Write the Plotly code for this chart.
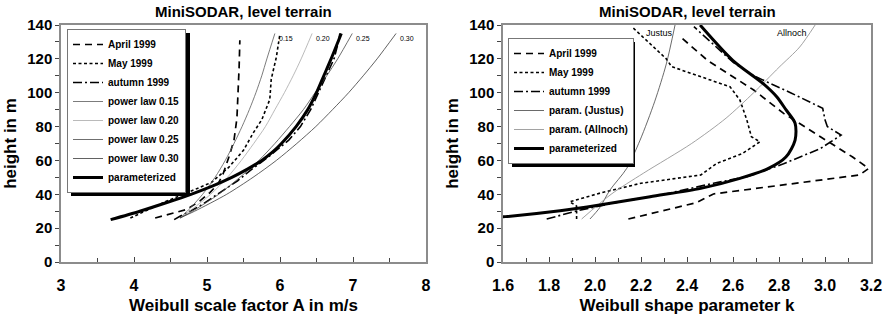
import plotly.graph_objects as go

W, H = 888, 324

# ---------------- Left panel: Weibull scale factor A ----------------
h_apr_A = [26, 29, 31, 36, 41, 46, 52, 62, 72, 85, 100, 115, 131]
A_apr = [4.29, 4.56, 4.72, 4.9, 5.04, 5.15, 5.22, 5.3, 5.37, 5.41, 5.43, 5.44, 5.45]

h_may_A = [26, 30, 36, 40, 44, 47, 56, 66, 76, 84, 96, 108, 121, 135]
A_may = [3.95, 4.15, 4.45, 4.68, 4.9, 5.06, 5.3, 5.5, 5.63, 5.75, 5.86, 5.88, 5.95, 6.0]

h_aut_A = [25, 27, 33, 40, 48, 55, 62, 72, 80, 90, 100, 110, 120, 130, 135]
A_aut = [4.55, 4.63, 4.9, 5.15, 5.42, 5.62, 5.84, 6.12, 6.28, 6.42, 6.53, 6.64, 6.74, 6.8, 6.82]

h_pl = [26, 30, 40, 50, 60, 70, 80, 90, 100, 110, 120, 135]
A_pl015 = [4.63, 4.73, 4.94, 5.11, 5.25, 5.37, 5.48, 5.58, 5.67, 5.75, 5.82, 5.93]
A_pl020 = [4.63, 4.76, 5.05, 5.28, 5.47, 5.64, 5.80, 5.93, 6.06, 6.18, 6.29, 6.44]
A_pl025 = [4.63, 4.80, 5.16, 5.45, 5.71, 5.93, 6.13, 6.32, 6.48, 6.64, 6.79, 6.99]
A_pl030 = [4.63, 4.83, 5.27, 5.63, 5.95, 6.23, 6.49, 6.72, 6.94, 7.14, 7.33, 7.59]
pl_labels = ["0.15", "0.20", "0.25", "0.30"]

h_par_A = [25, 30, 35, 40, 45, 50, 55, 60, 65, 70, 80, 90, 100, 110, 120, 135]
A_par = [3.68, 4.08, 4.44, 4.78, 5.08, 5.34, 5.56, 5.75, 5.9, 6.02, 6.22, 6.38, 6.5, 6.6, 6.7, 6.84]

# ---------------- Right panel: Weibull shape parameter k ----------------
h_apr_k = [25.4, 35, 40.2, 51.4, 55.3, 62, 74, 87.8, 101.6, 119, 132]
k_apr = [2.145, 2.44, 2.515, 3.15, 3.19, 3.12, 2.98, 2.82, 2.69, 2.49, 2.38]

h_may_k = [25.4, 33, 35.6, 41, 46.5, 51.4, 58.3, 64, 71, 74, 84, 95.7, 103.5, 109.5, 115.4, 120, 130, 139]
k_may = [1.92, 1.92, 1.89, 2.03, 2.2, 2.46, 2.53, 2.64, 2.717, 2.68, 2.66, 2.63, 2.587, 2.457, 2.333, 2.31, 2.23, 2.16]

h_aut_k = [25.4, 30.5, 35.6, 40, 46.5, 50.4, 58, 67, 75, 80, 84, 90.8, 100, 110, 118, 139]
k_aut = [1.79, 1.93, 2.11, 2.3, 2.515, 2.66, 2.82, 2.98, 3.07, 3.01, 3.0, 2.99, 2.85, 2.69, 2.6, 2.43]

h_jus = [25.4, 32, 42.5, 55.3, 72, 95, 117, 140]
k_jus = [1.978, 2.02, 2.065, 2.138, 2.196, 2.26, 2.31, 2.348]

h_all = [25.4, 40, 52.4, 70, 85, 100, 115, 127, 140]
k_all = [1.942, 2.07, 2.21, 2.42, 2.57, 2.69, 2.8, 2.89, 2.957]

h_par_k = [26.2, 26.8, 30.3, 33.7, 38.6, 43.5, 49.4, 55, 62, 72, 82, 90, 97.6, 105.5, 119, 140]
k_par = [1.55, 1.61, 1.848, 2.02, 2.24, 2.46, 2.63, 2.75, 2.83, 2.87, 2.87, 2.83, 2.79, 2.73, 2.6, 2.457]

TITLE = "MiniSODAR, level terrain"
FONT = "Liberation Sans, Arial, sans-serif"

DASH_APR = "7px,5px"
DASH_MAY = "3px,2.5px"
DASH_AUT = "9px,3px,2px,3px"

fig = go.Figure()

def add(x, y, name, xa, ya, leg, color="black", width=1.6, dash="solid", shape="linear"):
    fig.add_trace(go.Scatter(
        x=x, y=y, name=name, mode="lines", xaxis=xa, yaxis=ya, legend=leg,
        line=dict(color=color, width=width, dash=dash, shape=shape, smoothing=0.8),
        hoverinfo="skip"))

# left traces
add(A_apr, h_apr_A, "April 1999", "x", "y", "legend", width=1.7, dash=DASH_APR)
add(A_may, h_may_A, "May 1999", "x", "y", "legend", width=1.6, dash=DASH_MAY)
add(A_aut, h_aut_A, "autumn 1999", "x", "y", "legend", width=1.6, dash=DASH_AUT)
pl_sets = [A_pl015, A_pl020, A_pl025, A_pl030]
pl_colors = ["#5a5a5a", "#a8a8a8", "#4a4a4a", "#3a3a3a"]
for vals, lab, col in zip(pl_sets, pl_labels, pl_colors):
    add(vals, h_pl, "power law " + lab, "x", "y", "legend", color=col, width=0.8, shape="spline")
add(A_par, h_par_A, "parameterized", "x", "y", "legend", width=3, shape="spline")

# right traces
add(k_apr, h_apr_k, "April 1999", "x2", "y2", "legend2", width=1.7, dash=DASH_APR)
add(k_may, h_may_k, "May 1999", "x2", "y2", "legend2", width=1.6, dash=DASH_MAY)
add(k_aut, h_aut_k, "autumn 1999", "x2", "y2", "legend2", width=1.6, dash=DASH_AUT)
add(k_jus, h_jus, "param. (Justus)", "x2", "y2", "legend2", color="#444444", width=0.8, shape="spline")
add(k_all, h_all, "param. (Allnoch)", "x2", "y2", "legend2", color="#8a8a8a", width=0.8, shape="spline")
add(k_par, h_par_k, "parameterized", "x2", "y2", "legend2", width=3, shape="spline")

# plot-area geometry (pixels)
L1, R1 = 61, 426
L2, R2 = 503, 871
T, B = 25, 262

def px(v):
    return v / W

def py(v):
    return 1 - v / H

axis_common = dict(
    showline=True, linecolor="#8c8c8c", linewidth=1.5, mirror=True, automargin=False,
    showgrid=False, zeroline=False, tickcolor="#444", tickwidth=1,
    tickfont=dict(family=FONT, size=15, color="black", weight="bold"),
    title_font=dict(family=FONT, size=17, color="black", weight="bold"),
)

xcommon = dict(axis_common, ticks="inside", ticklen=5,
               tickfont=dict(family=FONT, size=16, color="black", weight="bold"),
               ticklabelstandoff=8, title_standoff=6)
ycommon = dict(axis_common, ticks="outside", ticklen=4, range=[0, 140], dtick=20, tick0=0,
               minor=dict(dtick=10, ticks="outside", ticklen=4, tickcolor="#444"),
               title_text="height in m", title_standoff=6)

fig.update_layout(
    width=W, height=H, margin=dict(l=0, r=0, t=0, b=0, autoexpand=False),
    paper_bgcolor="white", plot_bgcolor="white", showlegend=True,
    font=dict(family=FONT, color="black"),
    xaxis=dict(xcommon, domain=[px(L1), px(R1)], range=[3, 8], dtick=1, tick0=3,
               minor=dict(dtick=0.5, ticks="inside", ticklen=4, tickcolor="#444"),
               title_text="Weibull scale factor A in m/s", anchor="y"),
    yaxis=dict(ycommon, domain=[py(B), py(T)], anchor="x"),
    xaxis2=dict(xcommon, domain=[px(L2), px(R2)], range=[1.6, 3.2], dtick=0.2, tick0=1.6,
                tickformat=".1f",
                minor=dict(dtick=0.1, ticks="inside", ticklen=4, tickcolor="#444"),
                title_text="Weibull shape parameter k", anchor="y2"),
    yaxis2=dict(ycommon, domain=[py(B), py(T)], anchor="x2"),
    legend=dict(x=px(67), y=py(29), xanchor="left", yanchor="top",
                bgcolor="white", bordercolor="#777", borderwidth=1,
                font=dict(family=FONT, size=10, color="black", weight="bold"),
                tracegroupgap=0, itemwidth=30),
    legend2=dict(x=px(508), y=py(38), xanchor="left", yanchor="top",
                 bgcolor="white", bordercolor="#777", borderwidth=1,
                 font=dict(family=FONT, size=10, color="black", weight="bold"),
                 tracegroupgap=0, itemwidth=30),
)

# legend shadows (behind legends, offset down-right)
fig.add_shape(type="rect", xref="paper", yref="paper", layer="above",
              x0=px(71), x1=px(190), y0=py(33), y1=py(196),
              fillcolor="black", line=dict(width=0))
fig.add_shape(type="rect", xref="paper", yref="paper", layer="above",
              x0=px(512), x1=px(635), y0=py(42), y1=py(167),
              fillcolor="black", line=dict(width=0))

# titles
for cx in [(L1 + R1) / 2, (L2 + R2) / 2]:
    fig.add_annotation(text=TITLE, xref="paper", yref="paper", x=px(cx), y=py(12),
                       showarrow=False, xanchor="center", yanchor="middle",
                       font=dict(family=FONT, size=15, color="black", weight="bold"))

# power-law labels at the top of each line
for vals, lab in zip(pl_sets, pl_labels):
    fig.add_annotation(text=lab, x=vals[-1], y=h_pl[-1], xref="x", yref="y",
                       showarrow=False, xanchor="left", yanchor="middle", xshift=2, yshift=-5,
                       font=dict(family=FONT, size=7, color="black"))

# Justus / Allnoch labels
fig.add_annotation(text="Justus", x=k_jus[-1], y=h_jus[-1], xref="x2", yref="y2",
                   showarrow=False, xanchor="right", yanchor="top", xshift=0, yshift=-1,
                   font=dict(family=FONT, size=9, color="black"))
fig.add_annotation(text="Allnoch", x=k_all[-1], y=h_all[-1], xref="x2", yref="y2",
                   showarrow=False, xanchor="right", yanchor="top", xshift=-6, yshift=-1,
                   font=dict(family=FONT, size=9, color="black"))

fig.write_html("out.html")
